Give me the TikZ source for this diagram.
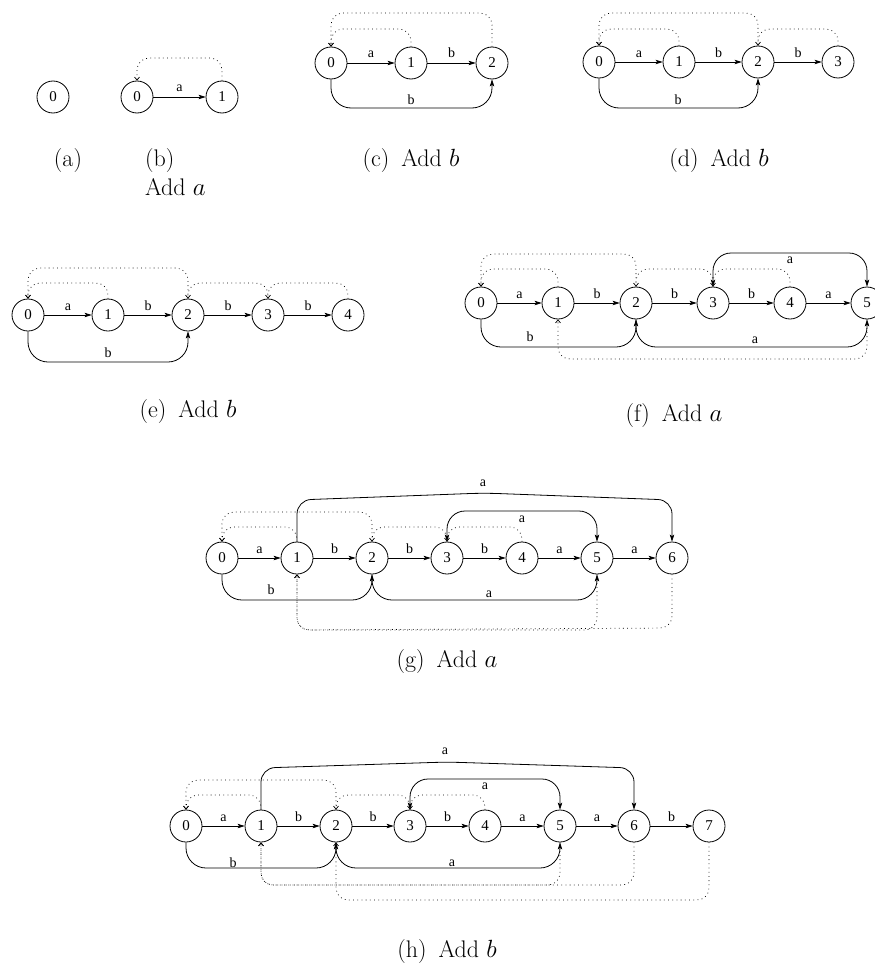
\documentclass[tikz,border=0pt]{standalone}
\usepackage{fontspec}
\newfontfamily\tfont{Liberation Serif}
\usetikzlibrary{arrows.meta}
\tikzset{
 stnode/.style={circle, draw, line width=0.8pt, minimum size=32pt, inner sep=0pt, font=\tfont\fontsize{15}{15}\selectfont},
 trans/.style={line width=0.8pt, -{Stealth[length=7pt,width=4.5pt,inset=1.5pt]}, rounded corners=20pt},
 transb/.style={line width=0.8pt, {Stealth[length=7pt,width=4.5pt,inset=1.5pt]}-{Stealth[length=7pt,width=4.5pt,inset=1.5pt]}, rounded corners=18pt},
 slink/.style={line width=0.7pt, dash pattern=on 0.8pt off 3.4pt, -{Straight Barb[length=3pt,width=5pt]}, rounded corners=12pt},
 labtxt/.style={font=\tfont\fontsize{14}{14}\selectfont, inner sep=0pt},
 edgelab/.style={labtxt, anchor=base, yshift=5pt},
 captxt/.style={font=\fontsize{24}{28}\selectfont, inner sep=0pt}
}
\begin{document}
\begin{tikzpicture}[x=1pt,y=-1pt]
\useasboundingbox (0,0) rectangle (875,966);

% (a)
\node[stnode] (A0) at (53,97) {0};
\node[captxt, anchor=base] (capa) at (68,166) {(a)};

% (b)
\node[stnode] (B0) at (137,97) {0};
\node[stnode] (B1) at (222,97) {1};
\draw[trans] (B0) -- node[edgelab] (Bl0) {a} (B1);
\draw[slink] (B1.north) -- (B1.north |- 0,58) -- (B0.north |- 0,58) -- (B0.north);
\node[captxt, anchor=base west] (capb1) at (145,166) {(b)};
\node[captxt, anchor=base west] (capb2) at (145,195) {Add $a$};

% (c)
\foreach \i/\x in {0/331,1/411,2/492} \node[stnode] (C\i) at (\x,63) {\i};
\draw[trans] (C0) -- node[edgelab] (Cl0) {a} (C1);
\draw[trans] (C1) -- node[edgelab] (Cl1) {b} (C2);
\draw[slink] (C1.north) -- (C1.north |- 0,29) -- (C0.north |- 0,29) -- (C0.north);
\draw[slink] (C2.north) -- (C2.north |- 0,13) -- (C0.north |- 0,13) -- (C0.north);
\draw[trans] (C0.south) -- (C0.south |- 0,108) -- (C2.south |- 0,108) -- (C2.south);
\node[labtxt] (Cb) at (411,100) {b};
\node[captxt, anchor=base] (capc) at (411,166) {(c)\hspace{0.5em}Add $b$};

% (d)
\foreach \i/\x in {0/599,1/679,2/758,3/838} \node[stnode] (D\i) at (\x,62) {\i};
\foreach \i/\j/\l in {0/1/a,1/2/b,2/3/b} \draw[trans] (D\i) -- node[edgelab] (Dl\i) {\l} (D\j);
\draw[slink] (D1.north) -- (D1.north |- 0,29) -- (D0.north |- 0,29) -- (D0.north);
\draw[slink] (D2.north) -- (D2.north |- 0,13) -- (D0.north |- 0,13) -- (D0.north);
\draw[slink] (D3.north) -- (D3.north |- 0,29) -- (D2.north |- 0,29) -- (D2.north);
\draw[trans] (D0.south) -- (D0.south |- 0,108) -- (D2.south |- 0,108) -- (D2.south);
\node[labtxt] (Db) at (678,100) {b};
\node[captxt, anchor=base] (capd) at (719,166) {(d)\hspace{0.5em}Add $b$};

% (e)
\foreach \i/\x in {0/28,1/108,2/188,3/268,4/348} \node[stnode] (E\i) at (\x,315) {\i};
\foreach \i/\j/\l in {0/1/a,1/2/b,2/3/b,3/4/b} \draw[trans] (E\i) -- node[edgelab] (El\i) {\l} (E\j);
\draw[slink] (E1.north) -- (E1.north |- 0,283) -- (E0.north |- 0,283) -- (E0.north);
\draw[slink] (E2.north) -- (E2.north |- 0,268) -- (E0.north |- 0,268) -- (E0.north);
\draw[slink] (E3.north) -- (E3.north |- 0,283) -- (E2.north |- 0,283) -- (E2.north);
\draw[slink] (E4.north) -- (E4.north |- 0,283) -- (E3.north |- 0,283) -- (E3.north);
\draw[trans] (E0.south) -- (E0.south |- 0,362) -- (E2.south |- 0,362) -- (E2.south);
\node[labtxt] (Eb) at (108,353) {b};
\node[captxt, anchor=base] (cape) at (188,417) {(e)\hspace{0.5em}Add $b$};

% (f)
\foreach \i/\x in {0/481,1/558,2/636,3/713,4/790,5/867} \node[stnode] (F\i) at (\x,303) {\i};
\foreach \i/\j/\l in {0/1/a,1/2/b,2/3/b,3/4/b,4/5/a} \draw[trans] (F\i) -- node[edgelab] (Fl\i) {\l} (F\j);
\draw[slink] (F1.north) -- (F1.north |- 0,269) -- (F0.north |- 0,269) -- (F0.north);
\draw[slink] (F2.north) -- (F2.north |- 0,254) -- (F0.north |- 0,254) -- (F0.north);
\draw[slink] (F3.north) -- (F3.north |- 0,269) -- (F2.north |- 0,269) -- (F2.north);
\draw[slink] (F4.north) -- (F4.north |- 0,269) -- (F3.north |- 0,269) -- (F3.north);
\draw[slink] (F5.south) -- (F5.south |- 0,359) -- (F1.south |- 0,359) -- (F1.south);
\draw[trans] (F0.south) -- (F0.south |- 0,347) -- (F2.south |- 0,347) -- (F2.south);
\draw[trans] (F2.south) -- (F2.south |- 0,347) -- (F5.south |- 0,347) -- (F5.south);
\draw[transb] (F3.north) -- (F3.north |- 0,253) -- (F5.north |- 0,253) -- (F5.north);
\node[labtxt] (Fb) at (530,337) {b};
\node[labtxt] (Fa1) at (755,340) {a};
\node[labtxt] (Fa2) at (790,260) {a};
\node[captxt, anchor=base] (capf) at (674,421) {(f)\hspace{0.5em}Add $a$};

% (g)
\foreach \i/\x in {0/222,1/297,2/372,3/447,4/522,5/597,6/672} \node[stnode] (G\i) at (\x,558) {\i};
\foreach \i/\j/\l in {0/1/a,1/2/b,2/3/b,3/4/b,4/5/a,5/6/a} \draw[trans] (G\i) -- node[edgelab] (Gl\i) {\l} (G\j);
\draw[slink] (G1.north) -- (G1.north |- 0,527) -- (G0.north |- 0,527) -- (G0.north);
\draw[slink] (G2.north) -- (G2.north |- 0,512) -- (G0.north |- 0,512) -- (G0.north);
\draw[slink] (G3.north) -- (G3.north |- 0,527) -- (G2.north |- 0,527) -- (G2.north);
\draw[slink] (G4.north) -- (G4.north |- 0,527) -- (G3.north |- 0,527) -- (G3.north);
\draw[slink] (G5.south) -- (G5.south |- 0,630) -- (G1.south |- 0,630) -- (G1.south);
\draw[slink] (G6.south) -- (G6.south |- 0,628) -- (G1.south |- 0,630) -- (G1.south);
\draw[trans] (G0.south) -- (G0.south |- 0,600) -- (G2.south |- 0,600) -- (G2.south);
\draw[trans] (G2.south) -- (G2.south |- 0,600) -- (G5.south |- 0,600) -- (G5.south);
\draw[transb] (G3.north) -- (G3.north |- 0,511) -- (G5.north |- 0,511) -- (G5.north);
\draw[trans, rounded corners=14pt] (G1.north) -- (G1.north |- 0,500) -- (484,493) -- (G6.north |- 0,500) -- (G6.north);
\node[labtxt] (Gb) at (271,590) {b};
\node[labtxt] (Ga1) at (489,594) {a};
\node[labtxt] (Ga2) at (522,519) {a};
\node[labtxt] (Ga3) at (483,483) {a};
\node[captxt, anchor=base] (capg) at (447,667) {(g)\hspace{0.5em}Add $a$};

% (h)
\foreach \i/\x in {0/186,1/261,2/336,3/410,4/485,5/560,6/634,7/709} \node[stnode] (H\i) at (\x,826) {\i};
\foreach \i/\j/\l in {0/1/a,1/2/b,2/3/b,3/4/b,4/5/a,5/6/a,6/7/b} \draw[trans] (H\i) -- node[edgelab] (Hl\i) {\l} (H\j);
\draw[slink] (H1.north) -- (H1.north |- 0,795) -- (H0.north |- 0,795) -- (H0.north);
\draw[slink] (H2.north) -- (H2.north |- 0,780) -- (H0.north |- 0,780) -- (H0.north);
\draw[slink] (H3.north) -- (H3.north |- 0,795) -- (H2.north |- 0,795) -- (H2.north);
\draw[slink] (H4.north) -- (H4.north |- 0,795) -- (H3.north |- 0,795) -- (H3.north);
\draw[slink] (H5.south) -- (H5.south |- 0,885) -- (H1.south |- 0,885) -- (H1.south);
\draw[slink] (H6.south) -- (H6.south |- 0,885) -- (H1.south |- 0,885) -- (H1.south);
\draw[slink] (H7.south) -- (H7.south |- 0,900) -- (H2.south |- 0,900) -- (H2.south);
\draw[trans] (H0.south) -- (H0.south |- 0,868) -- (H2.south |- 0,868) -- (H2.south);
\draw[trans] (H2.south) -- (H2.south |- 0,868) -- (H5.south |- 0,868) -- (H5.south);
\draw[transb] (H3.north) -- (H3.north |- 0,779) -- (H5.north |- 0,779) -- (H5.north);
\draw[trans, rounded corners=14pt] (H1.north) -- (H1.north |- 0,768) -- (447,762) -- (H6.north |- 0,768) -- (H6.north);
\node[labtxt] (Hb) at (233,863) {b};
\node[labtxt] (Ha1) at (452,863) {a};
\node[labtxt] (Ha2) at (485,786) {a};
\node[labtxt] (Ha3) at (445,751) {a};
\node[captxt, anchor=base] (caph) at (447,957) {(h)\hspace{0.5em}Add $b$};
\end{tikzpicture}
\end{document}
